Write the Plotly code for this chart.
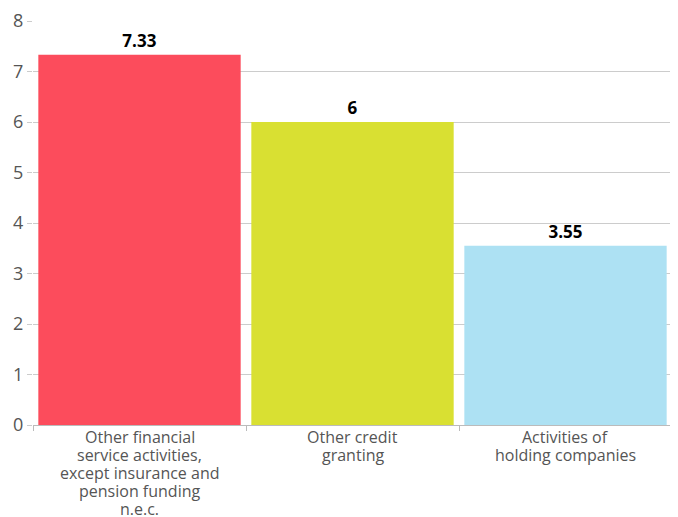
import plotly.graph_objects as go

categories = ["Other financial<br>service activities,<br>except insurance and<br>pension funding<br>n.e.c.",
              "Other credit<br>granting",
              "Activities of<br>holding companies"]
values = [7.33, 6, 3.55]
value_labels = ["7.33", "6", "3.55"]
colors = ["#fc4c5c", "#d9e032", "#ade1f3"]

fig = go.Figure(go.Bar(
    x=categories, y=values, marker_color=colors, marker_line_width=0,
    text=value_labels, textposition="outside", cliponaxis=False,
    textfont=dict(family="Open Sans", size=17, color="#000000", weight="bold"),
))

# category labels, one annotation per line for tighter line spacing
annotations = []
for cat in categories:
    for j, line in enumerate(cat.split("<br>")):
        annotations.append(dict(
            x=cat, y=0, xref="x", yref="y", text=line, showarrow=False,
            yanchor="middle", xanchor="center", yshift=-12 - 18 * j,
            font=dict(family="Open Sans", size=16, color="#555555"),
        ))

# page body has an 8px margin, compensate in figure size / margins
fig.update_layout(
    width=670, height=509,
    margin=dict(l=25, r=6, t=13, b=92),
    plot_bgcolor="white", paper_bgcolor="white",
    bargap=0.05, showlegend=False,
    font=dict(family="Open Sans", color="#555555"),
    annotations=annotations,
)
fig.update_yaxes(range=[0, 8], dtick=1, showgrid=True, gridcolor="#cccccc", gridwidth=1,
                 ticks="outside", ticklen=5, tickcolor="#cccccc", zeroline=False,
                 showline=False, automargin=False, tickfont=dict(size=18, color="#555555"))
fig.update_xaxes(showline=True, linecolor="#bbbbbb", linewidth=1, ticks="outside",
                 tickson="boundaries", ticklen=5, tickcolor="#bbbbbb", automargin=False,
                 showticklabels=False)
fig.write_html("out.html")
